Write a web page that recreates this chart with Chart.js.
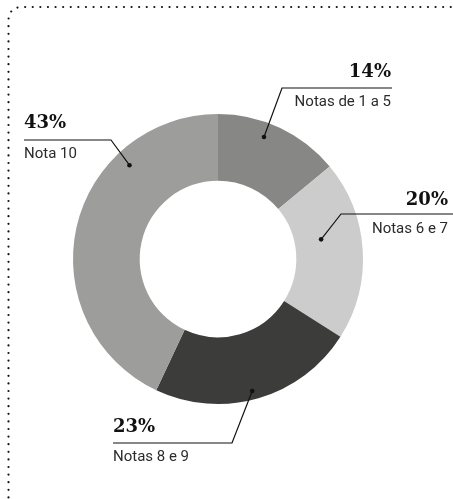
<!DOCTYPE html>
<html>
<head>
<meta charset="utf-8">
<script src="https://cdn.jsdelivr.net/npm/chart.js@4.4.0/dist/chart.umd.min.js"></script>
<style>
  html, body { margin: 0; padding: 0; background: #fff; }
  #wrap { width: 453px; height: 499px; position: relative; }
</style>
</head>
<body>
<div id="wrap"><canvas id="myChart"></canvas></div>
<script>
const categories = ['Notas de 1 a 5', 'Notas 6 e 7', 'Notas 8 e 9', 'Nota 10'];
const shares = [14, 20, 23, 43];
const sliceColors = ['#878886', '#cbcccb', '#3c3d3b', '#9d9e9c'];

// where each callout sits (text anchor, rule, elbow) and where its dot lands inside the slice
const calloutLayout = [
    { align: 'right', x: 391, pctY: 77,  ruleY: 88,  elbowX: 282, ruleEnd: 392, nameY: 106, t: 0.41, r: 0.78 },
    { align: 'right', x: 448, pctY: 205, ruleY: 214, elbowX: 341, ruleEnd: 453, nameY: 233, t: 0.40, r: 0.40 },
    { align: 'left',  x: 113, pctY: 432, ruleY: 443, elbowX: 232, ruleEnd: 113, nameY: 461, t: 0.52, r: 0.87 },
    { align: 'left',  x: 24,  pctY: 128, ruleY: 140, elbowX: 111, ruleEnd: 24,  nameY: 158, t: 0.72, r: 0.76 }
];

const frameDots = {
    id: 'frameDots',
    beforeDraw(chart) {
        const c = chart.ctx;
        c.save();
        c.strokeStyle = '#111';
        c.lineWidth = 2.2;
        c.lineCap = 'round';
        c.setLineDash([0, 7.6]);
        c.beginPath();
        c.moveTo(8.5, 505);
        c.lineTo(8.5, 20);
        c.quadraticCurveTo(9, 8, 21, 7);
        c.lineTo(460, 7);
        c.stroke();
        c.restore();
    }
};

const callouts = {
    id: 'callouts',
    afterDraw(chart) {
        const c = chart.ctx;
        const arcs = chart.getDatasetMeta(0).data;
        const values = chart.data.datasets[0].data;
        const total = values.reduce((a, b) => a + b, 0);
        c.save();
        arcs.forEach((arc, i) => {
            const lay = calloutLayout[i];
            const p = arc.getProps(['x', 'y', 'startAngle', 'endAngle', 'innerRadius', 'outerRadius'], true);
            const ang = p.startAngle + lay.t * (p.endAngle - p.startAngle);
            const rad = p.innerRadius + lay.r * (p.outerRadius - p.innerRadius);
            const dx = p.x + Math.cos(ang) * rad;
            const dy = p.y + Math.sin(ang) * rad;

            // leader: dot -> elbow -> horizontal rule
            c.strokeStyle = '#111';
            c.lineWidth = 1.2;
            c.beginPath();
            c.moveTo(dx, dy);
            c.lineTo(lay.elbowX, lay.ruleY);
            c.lineTo(lay.ruleEnd, lay.ruleY);
            c.stroke();
            c.fillStyle = '#111';
            c.beginPath();
            c.arc(dx, dy, 2.3, 0, Math.PI * 2);
            c.fill();

            c.textAlign = lay.align;
            c.textBaseline = 'alphabetic';
            c.fillStyle = '#111';
            c.font = 'bold 18px "DejaVu Serif", Georgia, serif';
            c.fillText(Math.round(values[i] / total * 100) + '%', lay.x, lay.pctY);
            c.fillStyle = '#2b2b2b';
            c.font = '15px Roboto, "Liberation Sans", sans-serif';
            c.fillText(chart.data.labels[i], lay.x, lay.nameY);
        });
        c.restore();
    }
};

const ctx = document.getElementById('myChart').getContext('2d');
const myChart = new Chart(ctx, {
    type: 'doughnut',
    data: {
        labels: categories,
        datasets: [{
            data: shares,
            backgroundColor: sliceColors,
            borderWidth: 0,
            hoverOffset: 0
        }]
    },
    options: {
        responsive: true,
        maintainAspectRatio: false,
        animation: false,
        cutout: '54%',
        rotation: 0,
        layout: {
            padding: { left: 73, right: 90, top: 114, bottom: 95 }
        },
        plugins: {
            legend: { display: false },
            tooltip: { enabled: false }
        }
    },
    plugins: [frameDots, callouts]
});
</script>
</body>
</html>
